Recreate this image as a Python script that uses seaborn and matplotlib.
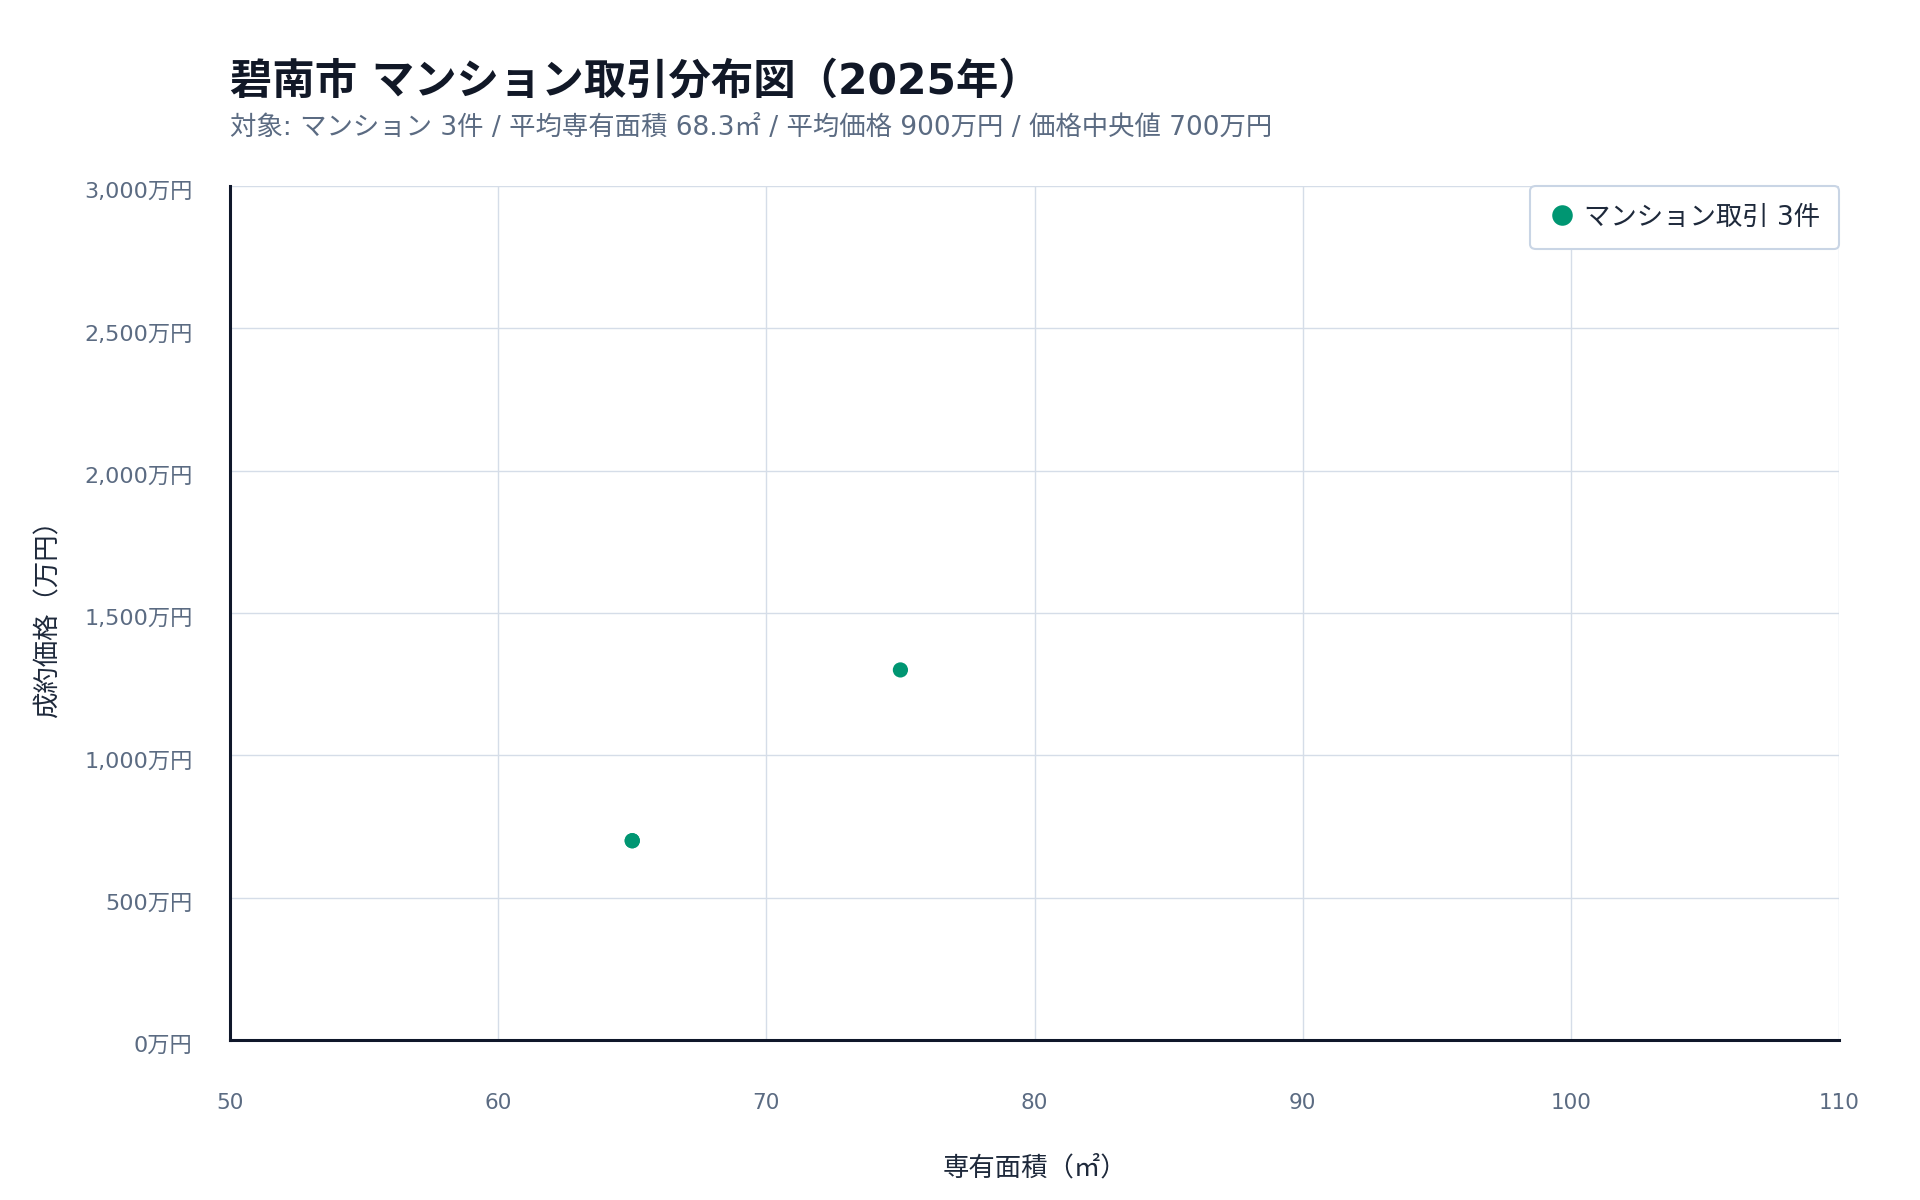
import pandas as pd
import matplotlib.pyplot as plt
import matplotlib.transforms as mtransforms
import seaborn as sns

# data
areas = [65, 75, 65]
prices = [700, 1300, 700]
series_label = "マンション取引 3件"
x_ticks = [50, 60, 70, 80, 90, 100, 110]
y_ticks = [0, 500, 1000, 1500, 2000, 2500, 3000]

title = "碧南市 マンション取引分布図（2025年）"
subtitle = "対象: マンション 3件 / 平均専有面積 68.3㎡ / 平均価格 900万円 / 価格中央値 700万円"

df = pd.DataFrame({"area": areas, "price": prices, "series": [series_label] * len(areas)})

sns.set_theme(style="whitegrid")
plt.rcParams["font.family"] = ["DejaVu Sans", "Noto Sans CJK JP"]

grid_color = "#d5dde8"
tick_color = "#5b6b82"
dark = "#0f172a"
green = "#009672"

fig = plt.figure(figsize=(19.2, 12), dpi=100)
fig.patch.set_facecolor("white")
ax = fig.add_axes([230 / 1920, 1 - 1040 / 1200, (1839 - 230) / 1920, (1040 - 186) / 1200])

sns.scatterplot(data=df, x="area", y="price", hue="series", palette=[green],
                s=120, edgecolor="none", linewidth=0, ax=ax, zorder=3)

ax.set_xlim(50, 110)
ax.set_ylim(0, 3000)
ax.set_xticks(x_ticks)
ax.set_yticks(y_ticks)
ax.set_yticklabels([f"{v:,}万円" for v in y_ticks])
ax.tick_params(axis="x", length=0, pad=38, labelsize=15.5, labelcolor=tick_color)
ax.tick_params(axis="y", length=0, pad=27, labelsize=16, labelcolor=tick_color)

# y tick labels sit a little below their grid lines
shift = mtransforms.ScaledTranslation(0, -4 / 100, fig.dpi_scale_trans)
for lab in ax.get_yticklabels():
    lab.set_transform(lab.get_transform() + shift)

ax.grid(True, color=grid_color, linewidth=1)
ax.set_facecolor("white")
for side in ["top", "right"]:
    ax.spines[side].set_visible(False)
for side in ["left", "bottom"]:
    ax.spines[side].set_color(dark)
    ax.spines[side].set_linewidth(2.2)

ax.set_xlabel("専有面積（㎡）", fontsize=19, color="#1e293b", va="center")
ax.xaxis.set_label_coords(0.5, -(1168 - 1040) / 854)
ax.set_ylabel("成約価格（万円）", fontsize=19, color="#1e293b", va="center")
ax.yaxis.set_label_coords(-(230 - 49) / 1609, 0.5)

leg = ax.legend(loc="upper right", borderaxespad=0, frameon=True, fancybox=True,
                fontsize=19, markerscale=1.35, handletextpad=0.35, handlelength=1.0,
                borderpad=0.7, labelcolor="#1e293b")
leg.get_frame().set_edgecolor("#c9d5e5")
leg.get_frame().set_linewidth(1.5)
leg.get_frame().set_facecolor("white")
leg.get_frame().set_alpha(1)

fig.text(230 / 1920, 1 - 82 / 1200, title, fontsize=30.5, fontweight="bold",
         color="#111827", va="center", ha="left")
fig.text(230 / 1920, 1 - 128 / 1200, subtitle, fontsize=19, color=tick_color,
         va="center", ha="left")

fig.savefig("out.png", dpi=100, facecolor="white")
